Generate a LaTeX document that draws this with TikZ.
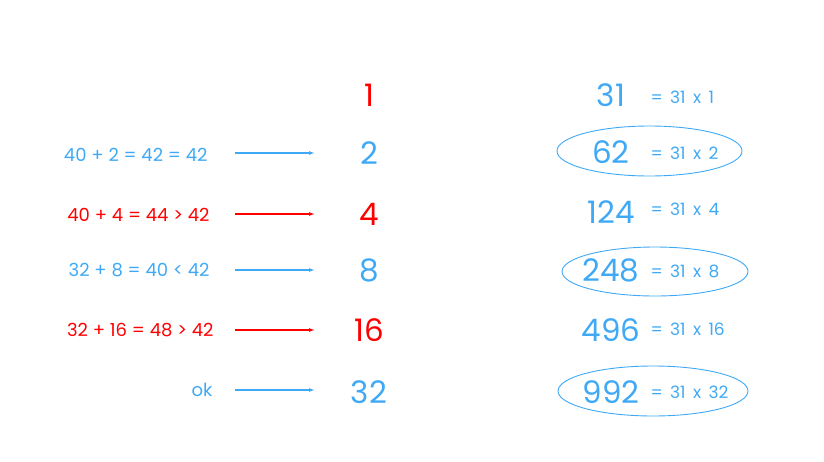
\documentclass[tikz,border=0pt]{standalone}
\usepackage{fontspec}
\setmainfont{Poppins}
\usetikzlibrary{arrows.meta}
\definecolor{sky}{RGB}{63,169,245}
\definecolor{hot}{RGB}{255,0,0}

\begin{document}
\begin{tikzpicture}[x=1pt,y=-1pt,
	big/.style={font=\fontsize{31}{31}\selectfont},
	small/.style={font=\fontsize{18}{18}\selectfont},
	tag/.style={font=\fontsize{17}{17}\selectfont,text=sky,anchor=west},
	link/.style={-{Latex[length=6pt,width=4pt]},line width=1.1pt}]
	\useasboundingbox (0,0) rectangle (824,461);

	% powers of two
	\foreach \n/\y/\c in {1/95/hot,2/153/sky,4/214/hot,8/270/sky,16/330/hot,32/392/sky}{
		\node[big,text=\c] (m\n) at (369,\y) {\n};
	}

	% comparisons with 42
	\node[small,text=sky,anchor=east] (l2) at (211,155) {40 + 2 = 42 = 42};
	\node[small,text=hot,anchor=east] (l4) at (213,215) {40 + 4 = 44 > 42};
	\node[small,text=sky,anchor=east] (l8) at (213,270) {32 + 8 = 40 < 42};
	\node[small,text=hot,anchor=east] (l16) at (217,330) {32 + 16 = 48 > 42};
	\node[small,text=sky,anchor=east] (l32) at (216,390) {ok};

	\foreach \n/\y/\c in {2/153/sky,4/214/hot,8/270/sky,16/330/hot,32/390/sky}{
		\coordinate (s\n) at (235,\y);
		\coordinate (t\n) at (315,\y);
		\draw[link,\c] (s\n) -- (t\n);
	}

	% multiples of 31
	\foreach \n/\v/\y/\z in {1/31/95/97,2/62/152/153,4/124/212/209,8/248/270/271,16/496/330/329,32/992/392/392}{
		\node[big,text=sky] (r\n) at (611,\y) {\v};
		\node[tag] (x\n) at (647,\z) {=\, 31\, x\, \n};
	}

	%\draw[sky] (r1) ellipse ...
	\draw[sky,line width=0.9pt] (649.5,151) ellipse [x radius=92.5pt,y radius=25pt];
	\draw[sky,line width=0.9pt] (655,271.5) ellipse [x radius=93pt,y radius=24.5pt];
	\draw[sky,line width=0.9pt] (653,391) ellipse [x radius=95pt,y radius=25pt];
\end{tikzpicture}
\end{document}
